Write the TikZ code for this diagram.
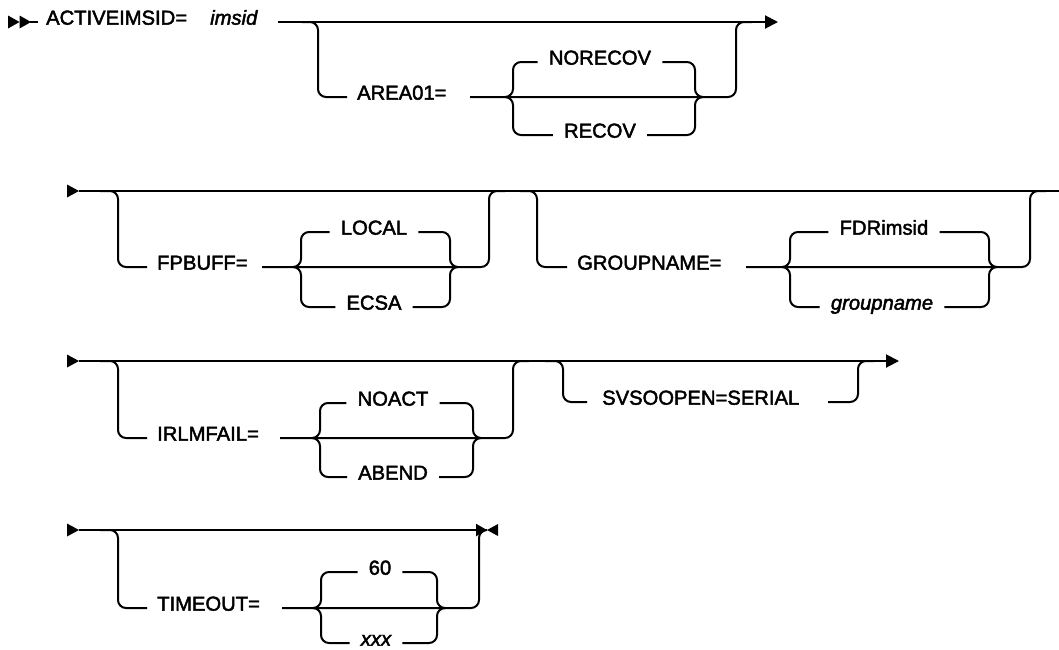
\documentclass[tikz,border=0pt]{standalone}
\usepackage{fontspec}
\setmainfont{Liberation Sans}[FakeBold=2.2]
\usetikzlibrary{arrows.meta}

\newcommand{\railfont}{\fontsize{20.2}{24}\selectfont}

\tikzset{
	rail/.style={line width=2pt, rounded corners=8pt},
	kw/.style={inner sep=0pt, anchor=mid west, font=\railfont},
	opt/.style={inner xsep=11pt, inner ysep=0pt, anchor=mid, font=\railfont},
	endtip/.style={-{Triangle[length=13pt, width=13pt]}},
}

\begin{document}
\begin{tikzpicture}[x=1pt, y=-1pt]
		\useasboundingbox (0,0) rectangle (1059,649);
		
		% row 1
		\fill (8,15.5) -- (19.5,22) -- (8,28.5) -- cycle;
		\fill (19.5,15.5) -- (31,22) -- (19.5,28.5) -- cycle;
		\draw[rail] (30,22) -- (38,22);
		\node[kw] (act) at (46,22) {ACTIVEIMSID=};
		\node[kw] (imsid) at (210,22) {\itshape imsid};
		\draw[rail, endtip] (278,22) -- (778,22);
		
		\draw[rail] (302,22) -- (318,22) -- (318,97) -- (347,97);
		\node[kw] (area) at (357,97) {AREA01=};
		\draw[rail] (470,97) -- (736,97) -- (736,22) -- (752,22);
		\node[opt] (norecov) at (600,62) {NORECOV};
		\node[opt] (recov) at (600,135) {RECOV};
		\draw[rail] (505,97) -- (513,97) -- (513,62) -- (norecov.mid west);
		\draw[rail] (505,97) -- (513,97) -- (513,135) -- (recov.mid west);
		\draw[rail] (norecov.mid east) -- (695,62) -- (695,97) -- (703,97);
		\draw[rail] (recov.mid east) -- (695,135) -- (695,97) -- (703,97);
		
		% row 2
		\fill (67,184.5) -- (79,191) -- (67,197.5) -- cycle;
		\draw[rail] (79,191) -- (1059,191);
		
		\draw[rail] (100,191) -- (118,191) -- (118,267) -- (147,267);
		\node[kw] (fpbuff) at (157,267) {FPBUFF=};
		\draw[rail] (262,267) -- (489,267) -- (489,191) -- (505,191);
		\node[opt] (local) at (374,232) {LOCAL};
		\node[opt] (ecsa) at (374,307) {ECSA};
		\draw[rail] (293,267) -- (301,267) -- (301,232) -- (local.mid west);
		\draw[rail] (293,267) -- (301,267) -- (301,307) -- (ecsa.mid west);
		\draw[rail] (local.mid east) -- (450,232) -- (450,267) -- (458,267);
		\draw[rail] (ecsa.mid east) -- (450,307) -- (450,267) -- (458,267);
		
		\draw[rail] (520,191) -- (537,191) -- (537,267) -- (567,267);
		\node[kw] (grp) at (577,267) {GROUPNAME=};
		\draw[rail] (746,267) -- (1030,267) -- (1030,191) -- (1046,191);
		\node[opt] (fdr) at (884,232) {FDRimsid};
		\node[opt] (grpname) at (882,307) {\itshape groupname};
		\draw[rail] (782,267) -- (790,267) -- (790,232) -- (fdr.mid west);
		\draw[rail] (782,267) -- (790,267) -- (790,307) -- (grpname.mid west);
		\draw[rail] (fdr.mid east) -- (989,232) -- (989,267) -- (997,267);
		\draw[rail] (grpname.mid east) -- (989,307) -- (989,267) -- (997,267);
		
		% row 3
		\fill (67,354.5) -- (79,361) -- (67,367.5) -- cycle;
		\draw[rail, endtip] (79,361) -- (899,361);
		
		\draw[rail] (100,361) -- (118,361) -- (118,438) -- (147,438);
		\node[kw] (irlm) at (157,438) {IRLMFAIL=};
		\draw[rail] (280,438) -- (513,438) -- (513,361) -- (529,361);
		\node[opt] (noact) at (393,403) {NOACT};
		\node[opt] (abend) at (393,477) {ABEND};
		\draw[rail] (312,438) -- (320,438) -- (320,403) -- (noact.mid west);
		\draw[rail] (312,438) -- (320,438) -- (320,477) -- (abend.mid west);
		\draw[rail] (noact.mid east) -- (473,403) -- (473,438) -- (481,438);
		\draw[rail] (abend.mid east) -- (473,477) -- (473,438) -- (481,438);
		
		\draw[rail] (545,361) -- (563,361) -- (563,402) -- (587,402);
		\node[kw] (svso) at (602,402) {SVSOOPEN=SERIAL};
		\draw[rail] (828,402) -- (858,402) -- (858,361) -- (874,361);
		
		% row 4
		\fill (67,523.5) -- (79,530) -- (67,536.5) -- cycle;
		\draw[rail, -{Triangle[length=11pt, width=12pt]}] (79,530) -- (487,530);
		\fill (487,530) -- (498,524) -- (498,536) -- cycle;
		
		\draw[rail] (100,530) -- (118,530) -- (118,608) -- (147,608);
		\node[kw] (tmo) at (157,608) {TIMEOUT=};
		\draw[rail] (282,608) -- (479,608) -- (479,530) -- (487,530);
		\node[opt] (sixty) at (380,572) {60};
		\node[opt] (xxx) at (376,643) {\itshape xxx};
		\draw[rail] (313,608) -- (321,608) -- (321,572) -- (sixty.mid west);
		\draw[rail] (313,608) -- (321,608) -- (321,643) -- (xxx.mid west);
		\draw[rail] (sixty.mid east) -- (437,572) -- (437,608) -- (444,608);
		\draw[rail] (xxx.mid east) -- (437,643) -- (437,608) -- (444,608);
	\end{tikzpicture}
\end{document}
